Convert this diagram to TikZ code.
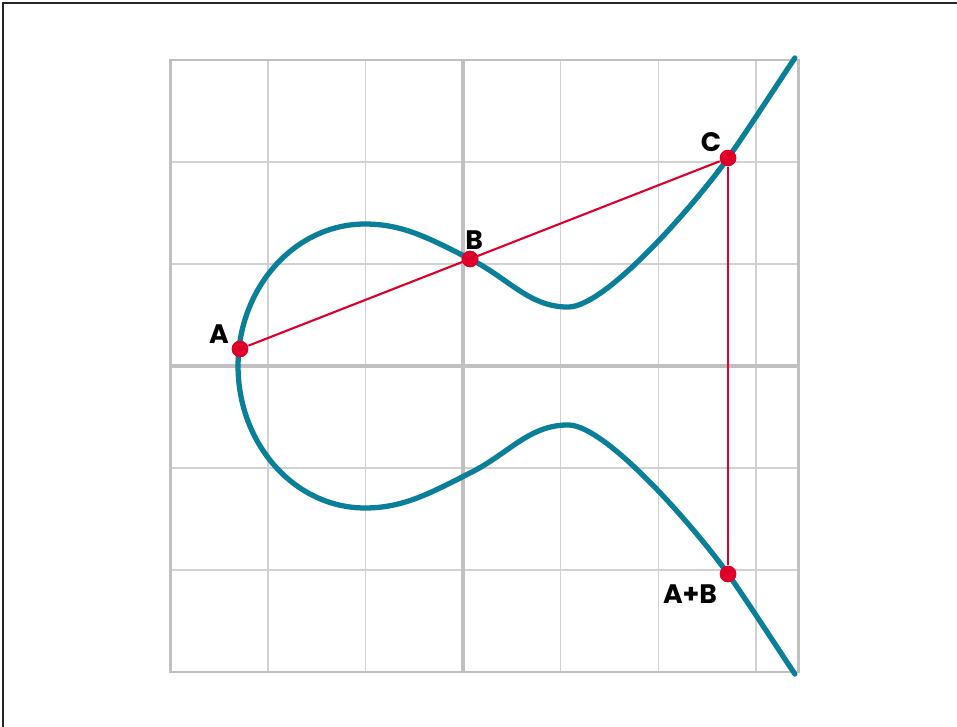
\documentclass[tikz,border=0pt]{standalone}
\usepackage{xcolor}
\usepackage{fontspec}
\newfontfamily\lblfont{Poppins}
\usepackage{tikz}
\definecolor{curveteal}{RGB}{10,127,153}
\definecolor{pointred}{RGB}{222,0,42}
\definecolor{gridlight}{RGB}{210,210,210}
\definecolor{griddark}{RGB}{192,192,192}

\begin{document}
\begin{tikzpicture}[x=0.976cm, y=1.02cm,
    thingrid/.style={draw=gridlight, line width=0.4pt},
    thickgrid/.style={draw=griddark, line width=0.8pt},
    curve/.style={draw=curveteal, line width=1.5pt, line cap=round},
    chord/.style={draw=pointred, line width=0.6pt},
    dot/.style={circle, fill=pointred, inner sep=0pt, minimum size=4.7pt},
    lbl/.style={font=\lblfont\bfseries\fontsize{7.6}{8}\selectfont, inner sep=0pt}]
    \useasboundingbox (-4.744,-3.539) rectangle (5.061,3.588);
    \draw[black!85, line width=0.45pt] (-4.713,-3.539) -- (-4.713,3.559) -- (5.061,3.559);
    \foreach \gx in {-2,-1,1,2,3} \draw[thingrid] (\gx,-3) -- (\gx,3);
    \foreach \gy in {-2,-1,1,2} \draw[thingrid] (-3,\gy) -- (3.44,\gy);
    \draw[thickgrid] (-3,-3) rectangle (3.44,3);
    \draw[thickgrid, line width=1.2pt] (0,-3) -- (0,3) (-3,0) -- (3.44,0);
    % upper half, mirrored for the lower half
    \foreach \s in {1,-1}
        \draw[curve, yscale=\s] (-2.305,0)
            .. controls (-2.305,0.769) and (-1.722,1.392) .. (-1.004,1.392)
            .. controls (-0.604,1.392) and (-0.328,1.241) .. (0.072,1.049)
            .. controls (0.472,0.857) and (0.676,0.578) .. (1.076,0.578)
            .. controls (1.476,0.578) and (2.417,1.637) .. (2.715,2.039)
            .. controls (2.894,2.280) and (3.228,2.774) .. (3.40,3.02);
    \node[dot] (A) at (-2.285,0.167) {};
    \node[dot] (B) at (0.072,1.049) {};
    \node[dot] (C) at (2.715,2.039) {};
    \node[dot] (AB) at (2.715,-2.039) {};
    \draw[chord] (A) -- (C);
    \draw[chord] (C) -- (AB);
    \node[dot] at (A) {};
    \node[dot] at (B) {};
    \node[dot] at (C) {};
    \node[dot] at (AB) {};
    \node[lbl] (lA) at ([shift={(-0.215,0.147)}]A) {A};
    \node[lbl] (lB) at ([shift={(0.041,0.186)}]B) {B};
    \node[lbl] (lC) at ([shift={(-0.174,0.157)}]C) {C};
    \node[lbl] (lAB) at ([shift={(-0.389,-0.196)}]AB) {A+B};
\end{tikzpicture}
\end{document}
